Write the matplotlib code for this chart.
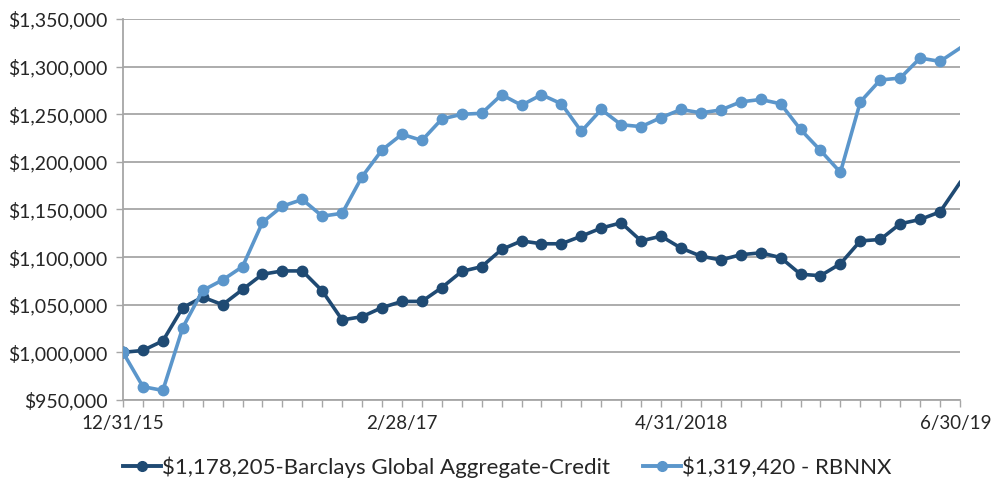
import numpy as np
import matplotlib
matplotlib.use("Agg")
import matplotlib.pyplot as plt
import matplotlib.transforms as mtransforms
from matplotlib.legend_handler import HandlerLine2D
from matplotlib.lines import Line2D
from matplotlib.ticker import FuncFormatter

# monthly growth of $1,000,000, 12/31/15 .. 6/30/19
barclays = [1000000, 1002000, 1012000, 1047000, 1058000, 1050000, 1066000, 1082000,
            1085500, 1085500, 1064500, 1034000, 1037500, 1047000, 1053500, 1053500,
            1068000, 1085000, 1090000, 1108000, 1117000, 1114000, 1114000, 1122000,
            1130500, 1136000, 1117000, 1122000, 1109500, 1101000, 1097000, 1102500,
            1104500, 1099500, 1082000, 1080500, 1093000, 1117000, 1118500, 1135000,
            1139500, 1147500, 1178205]
rbnnx = [1000000, 964000, 960000, 1026000, 1065000, 1076000, 1090000, 1136500,
         1153500, 1160500, 1143000, 1146000, 1184500, 1212500, 1229000, 1222500,
         1245000, 1250000, 1251000, 1270500, 1259500, 1270500, 1261000, 1232000,
         1255000, 1239000, 1237000, 1246500, 1255000, 1251500, 1254500, 1263000,
         1265500, 1261000, 1234000, 1212000, 1189000, 1263000, 1286000, 1288000,
         1309000, 1305500, 1319420]
tick_pos = [0, 14, 28, 42]
tick_labels = ["12/31/15", "2/28/17", "4/31/2018", "6/30/19"]
names = ["$1,178,205-Barclays Global Aggregate-Credit", "$1,319,420 - RBNNX"]

dark = "#1f4a73"
light = "#5b96cb"
grid_c = "#a6a6a6"
txt = "#262626"

plt.rcParams['font.family'] = ['Lato', 'DejaVu Sans']

fig = plt.figure(figsize=(9.95, 4.79), dpi=100)
ax = fig.add_axes([0.1236, 0.165, 0.8412, 0.7953])

months = np.arange(len(barclays))
# last month sits on the plot edge: no marker there
marks = list(range(len(barclays) - 1))
ax.plot(months, barclays, color=dark, lw=2.6, marker="o", ms=7.5, markevery=marks, zorder=3)
ax.plot(months, rbnnx, color=light, lw=2.6, marker="o", ms=7.5, markevery=marks, zorder=3)

ax.set_xlim(0, len(barclays) - 1)
ax.set_ylim(950000, 1350000)
ax.set_yticks(np.arange(950000, 1350001, 50000))
ax.yaxis.set_major_formatter(FuncFormatter(lambda v, p: f"${v:,.0f}"))
ax.grid(axis="y", color=grid_c, lw=1.3)
ax.set_axisbelow(True)

ax.set_xticks(tick_pos)
ax.set_xticklabels(tick_labels)
ax.set_xticks(months, minor=True)
ax.tick_params(axis="x", which="both", length=5, color=grid_c, width=1, labelsize=13.5,
               labelcolor=txt, pad=6)
ax.tick_params(axis="y", length=5, color=grid_c, width=1, labelsize=14,
               labelcolor=txt, pad=6)
last = ax.get_xticklabels()[-1]
last.set_transform(last.get_transform() + mtransforms.ScaledTranslation(-4 / 100, 0, fig.dpi_scale_trans))

for s in ["top", "right"]:
    ax.spines[s].set_visible(False)
for s in ["left", "bottom"]:
    ax.spines[s].set_color(grid_c)
    ax.spines[s].set_linewidth(1.3)


class LeftMarker(HandlerLine2D):
    def get_xdata(self, legend, xdescent, ydescent, width, height, fontsize):
        xdata = np.array([-xdescent, -xdescent + width])
        return xdata, np.array([-xdescent])


handles = [Line2D([], [], color=dark, lw=2.8, marker="o", ms=7),
           Line2D([], [], color=light, lw=2.8, marker="o", ms=7)]
fig.legend(handles, names, loc="center", bbox_to_anchor=(0.51, 0.024), ncol=2,
           frameon=False, fontsize=16, handlelength=1.7, handletextpad=0.05,
           columnspacing=1.5, labelcolor=txt,
           handler_map={h: LeftMarker() for h in handles})

fig.savefig("out.png", dpi=100)
